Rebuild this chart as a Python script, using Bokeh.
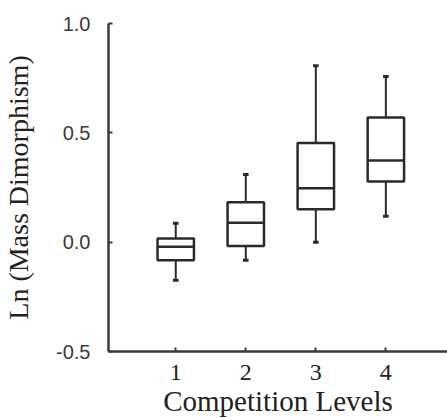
from bokeh.plotting import figure
from bokeh.models import Range1d, FixedTicker, ColumnDataSource
from bokeh.embed import file_html
from bokeh.resources import INLINE

# Data
levels = [1, 2, 3, 4]
whisker_low = [-0.174, -0.083, 0.0, 0.119]
q1 = [-0.083, -0.018, 0.150, 0.277]
median = [-0.021, 0.089, 0.246, 0.373]
q3 = [0.017, 0.182, 0.453, 0.570]
whisker_high = [0.086, 0.310, 0.807, 0.758]
y_ticks = [-0.5, 0.0, 0.5, 1.0]
y_tick_labels = ["-0.5", "0.0", "0.5", "1.0"]
x_tick_labels = ["1", "2", "3", "4"]

box_w = 0.52
cap_w = 0.08
line_col = "#2a2a2a"

src = ColumnDataSource(dict(
    x=levels,
    lo=whisker_low, q1=q1, med=median, q3=q3, hi=whisker_high,
    bx0=[v - box_w / 2 for v in levels], bx1=[v + box_w / 2 for v in levels],
    cx0=[v - cap_w / 2 for v in levels], cx1=[v + cap_w / 2 for v in levels],
))

p = figure(width=447, height=419, output_backend="svg", toolbar_location=None,
           x_range=Range1d(0.04, 4.88), y_range=Range1d(-0.5, 1.0),
           min_border_left=108, min_border_top=23, min_border_right=0,
           min_border_bottom=0)
p.outline_line_color = None
p.xgrid.visible = False
p.ygrid.visible = False
p.background_fill_color = "white"
p.border_fill_color = "white"

# whiskers
p.segment(x0="x", y0="q3", x1="x", y1="hi", source=src, line_color=line_col, line_width=2)
p.segment(x0="x", y0="lo", x1="x", y1="q1", source=src, line_color=line_col, line_width=2)
# caps
p.segment(x0="cx0", y0="hi", x1="cx1", y1="hi", source=src, line_color=line_col, line_width=3)
p.segment(x0="cx0", y0="lo", x1="cx1", y1="lo", source=src, line_color=line_col, line_width=3)
# boxes
p.vbar(x="x", width=box_w, bottom="q1", top="q3", source=src,
       fill_color="white", line_color=line_col, line_width=2.5)
# medians
p.segment(x0="bx0", y0="med", x1="bx1", y1="med", source=src, line_color=line_col, line_width=2.5)

# y axis
ya = p.yaxis[0]
ya.ticker = FixedTicker(ticks=y_ticks)
ya.major_label_overrides = {t: l for t, l in zip(y_ticks, y_tick_labels)}
ya.axis_line_width = 2.5
ya.axis_line_color = "#3a3a3a"
ya.major_tick_in = 4
ya.major_tick_out = 0
ya.major_tick_line_width = 2
ya.major_tick_line_color = "#3a3a3a"
ya.minor_tick_line_color = None
ya.major_label_text_font = "Liberation Sans"
ya.major_label_text_font_size = "20px"
ya.major_label_text_color = "#3a3a3a"
ya.major_label_standoff = 18
ya.axis_label = "Ln (Mass Dimorphism)"
ya.axis_label_text_font = "Liberation Serif"
ya.axis_label_text_font_style = "normal"
ya.axis_label_text_font_size = "28px"
ya.axis_label_text_color = "#222222"
ya.axis_label_standoff = 19

# x axis
xa = p.xaxis[0]
xa.ticker = FixedTicker(ticks=levels)
xa.major_label_overrides = {t: l for t, l in zip(levels, x_tick_labels)}
xa.axis_line_width = 2.5
xa.axis_line_color = "#3a3a3a"
xa.major_tick_in = 4
xa.major_tick_out = 0
xa.major_tick_line_width = 2
xa.major_tick_line_color = "#3a3a3a"
xa.minor_tick_line_color = None
xa.major_label_text_font = "Liberation Serif"
xa.major_label_text_font_size = "24px"
xa.major_label_text_color = "#222222"
xa.major_label_standoff = 13
xa.axis_label = "Competition Levels"
xa.axis_label_text_font = "Liberation Serif"
xa.axis_label_text_font_style = "normal"
xa.axis_label_text_font_size = "29px"
xa.axis_label_text_color = "#222222"
xa.axis_label_standoff = 2

open("out.html", "w").write(file_html(p, INLINE))
